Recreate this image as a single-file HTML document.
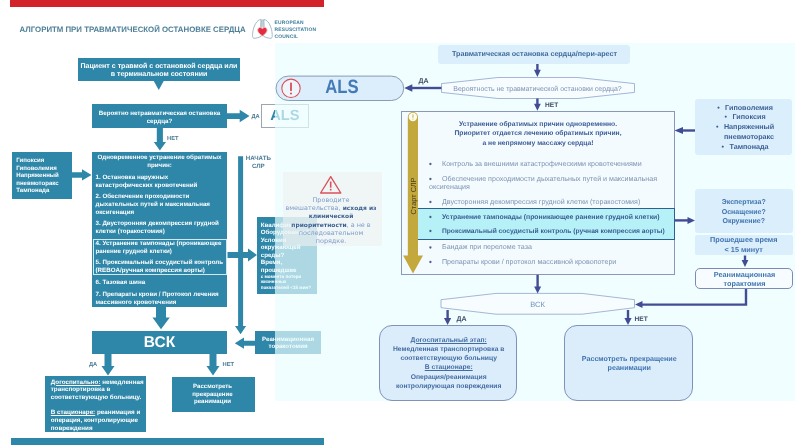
<!DOCTYPE html>
<html lang="ru">
<head>
<meta charset="utf-8">
<title>Алгоритм при травматической остановке сердца</title>
<style>
html,body{margin:0;padding:0;background:#fff;}
body{text-rendering:geometricPrecision;width:800px;height:445px;overflow:hidden;position:relative;font-family:"Liberation Sans",sans-serif;}
#stage{position:absolute;left:0;top:0;width:800px;height:445px;background:#fff;filter:blur(0.45px);}
.abs{position:absolute;}
.bx{position:absolute;background:#2e86a8;}
.lt{position:absolute;color:#fff;font-weight:bold;font-size:6.22px;line-height:8px;white-space:nowrap;}
.c{text-align:center;}
.lbl{position:absolute;color:#4b7b95;font-weight:bold;font-size:5.75px;line-height:7px;white-space:nowrap;}
svg{position:absolute;left:0;top:0;overflow:visible;}
/* right panel */
#panel{position:absolute;left:275.200px;top:42.700px;width:519.500px;height:358.300px;background:rgba(233,254,255,0.68);}
.rb{position:absolute;background:#dbeefb;border-radius:3px;}
.rt{position:absolute;color:#3b5c8e;font-weight:bold;font-size:7.6px;line-height:9.6px;white-space:nowrap;text-align:center;}
.rl{position:absolute;color:#7c93b3;font-size:7.12px;line-height:9px;white-space:nowrap;}
.rl b{color:#3a5c92;font-size:6.77px;}
.rlab{position:absolute;color:#3d4a68;font-weight:bold;font-size:6.6px;line-height:9px;white-space:nowrap;}
</style>
</head>
<body>
<div id="stage">

<!-- ================= LEFT POSTER ================= -->
<div class="abs" style="left:10px;top:-6px;width:313.750px;height:12.600px;background:#d2232a;"></div>
<div class="abs" style="left:19.5px;top:24.500px;font-size:7.84px;line-height:10px;font-weight:bold;color:#4f7f98;white-space:nowrap;">АЛГОРИТМ ПРИ ТРАВМАТИЧЕСКОЙ ОСТАНОВКЕ СЕРДЦА</div>

<!-- box 1 -->
<div class="bx" style="left:78px;top:57.5px;width:162px;height:23.750px;"></div>
<div class="lt c" style="left:78px;top:63px;width:162px;font-size:7.05px;line-height:8.25px;">Пациент с травмой с остановкой сердца или<br>в терминальном состоянии</div>

<!-- box 2 -->
<div class="bx" style="left:92px;top:104.300px;width:135px;height:23.800px;"></div>
<div class="lt c" style="left:92px;top:110px;width:135px;">Вероятно нетравматическая остановка<br>сердца?</div>

<!-- left small ALS box -->
<div class="abs" style="left:261px;top:104.200px;width:47.900px;height:24px;background:#fff;border:0.7px solid #9aa7b0;box-sizing:border-box;"></div>
<div class="abs" style="left:270.200px;top:108px;font-size:14.700px;line-height:17px;font-weight:bold;color:#2e86a8;white-space:nowrap;">ALS</div>

<!-- causes box -->
<div class="bx" style="left:12.200px;top:151.700px;width:59.800px;height:47.800px;"></div>
<div class="lt" style="left:16.250px;top:157.300px;font-size:6.08px;line-height:7.5px;">Гипоксия<br>Гиповолемия<br>Напряженный<br>пневмоторакс<br>Тампонада</div>

<!-- box 3 -->
<div class="bx" style="left:92px;top:152px;width:135px;height:154.800px;"></div>
<div class="abs" style="left:92.5px;top:239px;width:134px;height:35.5px;border:0.8px solid rgba(255,255,255,0.8);box-sizing:border-box;"></div>
<div class="lt c" style="left:92px;top:154.100px;width:135px;">Одновременное устранение обратимых<br>причин:</div>
<div class="lt" style="left:95.5px;top:174.300px;">1. Остановка наружных<br>катастрофических кровотечений</div>
<div class="lt" style="left:95.5px;top:192.800px;">2. Обеспечение проходимости<br>дыхательных путей и максимальная<br>оксигенация</div>
<div class="lt" style="left:95.5px;top:219.750px;">3. Двусторонняя декомпрессия грудной<br>клетки (торакостомия)</div>
<div class="lt" style="left:95.5px;top:240px;">4. Устранение тампонады (проникающее<br>ранение грудной клетки)</div>
<div class="lt" style="left:95.5px;top:259.100px;">5. Проксимальный сосудистый контроль<br>(REBOA/ручная компрессия аорты)</div>
<div class="lt" style="left:95.5px;top:279.200px;">6. Тазовая шина</div>
<div class="lt" style="left:95.5px;top:291.200px;">7. Препараты крови / Протокол лечения<br>массивного кровотечения</div>

<!-- qualification box -->
<div class="bx" style="left:257px;top:217px;width:59.5px;height:76.800px;"></div>
<div class="lt" style="left:260.700px;top:221.500px;font-size:6.2px;line-height:7.5px;">Квалификация?<br>Оборудование?<br>Условия<br>окружающей<br>среды?<br>Время,<br>прошедшее</div>
<div class="lt" style="left:260.700px;top:273.900px;font-size:4.6px;line-height:5.5px;">с момента потери<br>жизненных<br>показателей &lt;15 мин?</div>

<!-- BCK -->
<div class="bx" style="left:92px;top:331px;width:135px;height:22.5px;"></div>
<div class="abs c" style="left:92px;top:332.5px;width:135px;color:#fff;font-weight:bold;font-size:15.5px;line-height:19px;">ВСК</div>

<!-- thoracotomy left -->
<div class="bx" style="left:255px;top:331px;width:66px;height:22.5px;"></div>
<div class="lt c" style="left:255px;top:335.700px;width:66px;font-size:6.16px;line-height:7.7px;">Реанимационная<br>торакотомия</div>

<!-- bottom boxes -->
<div class="bx" style="left:45.300px;top:376.200px;width:101.200px;height:56px;"></div>
<div class="lt" style="left:50.800px;top:378.600px;font-size:6.25px;line-height:7.7px;"><u>Догоспитально:</u> немедленная<br>транспортировка в<br>соответствующую больницу.<br><br><u>В стационаре:</u> реанимация и<br>операция, контролирующие<br>повреждения</div>

<div class="bx" style="left:171.5px;top:376.500px;width:83px;height:35px;"></div>
<div class="lt c" style="left:171px;top:383.200px;width:83px;font-size:6.1px;line-height:7.6px;">Рассмотреть<br>прекращение<br>реанимации</div>

<div class="abs" style="left:11px;top:437.5px;width:313px;height:14px;background:#2e86a8;"></div>

<!-- labels -->
<div class="lbl" style="left:251.5px;top:113.5px;">ДА</div>
<div class="lbl" style="left:167px;top:136.200px;">НЕТ</div>
<div class="lbl c" style="left:241.300px;top:154.800px;width:34px;line-height:7.8px;font-size:6.2px;">НАЧАТЬ<br>СЛР</div>
<div class="lbl" style="left:89px;top:361.900px;">ДА</div>
<div class="lbl" style="left:222.5px;top:361.900px;">НЕТ</div>

<svg id="larrows" width="800" height="445" viewBox="0 0 800 445">
  <g fill="#2e86a8">
    <polygon points="153.750,81 163.750,81 158.750,90"/>
    <!-- box2 -> ALS -->
    <polygon points="227,113.200 239.700,113.200 239.700,109.800 249.500,116 239.700,122.200 239.700,118.900 227,118.900"/>
    <!-- box2 down -->
    <polygon points="156.800,128 162.900,128 162.900,142 166,142 159.850,150.500 153.800,142 156.800,142"/>
    <!-- causes -> box3 -->
    <polygon points="71,172.200 82,172.200 82,169.300 91.500,174.900 82,180.400 82,177.700 71,177.700"/>
    <!-- box3 -> qualification -->
    <polygon points="227.500,252 248,252 248,248.500 257,255 248,261.5 248,258 227.500,258"/>
    <!-- vertical start CPR -->
    <polygon points="238.100,156.300 243.100,156.300 243.100,326 246.100,326 240.600,334.300 235,326 238.100,326"/>
    <!-- box3 -> BCK -->
    <polygon points="156,306 166,306 166,317.500 169.800,317.500 161,329.200 152.5,317.500 156,317.500"/>
    <!-- thoracotomy -> BCK -->
    <polygon points="255.300,340.700 244,340.700 244,337.500 234.800,343.200 244,348.800 244,345.800 255.300,345.800"/>
    <!-- BCK yes/no -->
    <polygon points="104.5,353 111.5,353 111.5,366 114.5,366 108,375.5 101.5,366 104.5,366"/>
    <polygon points="209.500,353 216.500,353 216.500,366 219.500,366 213,375.5 206.500,366 209.500,366"/>
  </g>
</svg>

<!-- ERC logo -->
<svg id="logo" width="800" height="445" viewBox="0 0 800 445">
  <g fill="none" stroke="#7fa0ad" stroke-width="0.7" stroke-linecap="round" stroke-linejoin="round">
    <path d="M260.600,19.600 C257.200,19.400 253.800,25.500 252.900,31.500 C252.300,35.800 252.400,38.300 253.900,38.300 C256.300,38.300 259.600,37.400 261.400,36.100 L260.700,27 Z"/>
    <path d="M264.200,19.600 C267.600,19.400 271,25.500 271.900,31.500 C272.500,35.800 272.400,38.300 270.900,38.300 C268.500,38.300 265.200,37.400 263.400,36.100 L264.100,27 Z"/>
    <path d="M261.800,19.800 L261.800,27 M263,19.800 L263,27"/>
  </g>
  <path transform="translate(0,0.6)" d="M262.400,35.300 C259,32.900 257.700,31.400 257.700,29.500 C257.700,27.900 258.900,26.900 260.100,26.900 C261.100,26.900 261.900,27.400 262.400,28.300 C262.900,27.400 263.700,26.900 264.700,26.900 C265.900,26.900 267.100,27.900 267.100,29.500 C267.100,31.400 265.800,32.900 262.400,35.300 Z" fill="#e42b42" stroke="#f3b5bd" stroke-width="0.9"/>
</svg>
<div class="abs" style="left:274.6px;top:20.800px;font-size:4.95px;line-height:6.9px;font-weight:bold;color:#3d7f9e;white-space:nowrap;letter-spacing:0.15px;">EUROPEAN<br>RESUSCITATION<br>COUNCIL</div>

<!-- ================= RIGHT PANEL ================= -->
<div id="panel"></div>
<!-- big box -->
<div class="abs" style="left:400.500px;top:111px;width:274.500px;height:163.800px;box-sizing:border-box;border:0.9px solid #8b97b6;background:#f4fbfe;"></div>
<div class="abs" style="left:418.200px;top:207.700px;width:256.800px;height:32.700px;box-sizing:border-box;border:0.9px solid #2f5f8f;border-left:none;background:#b6f1f8;"></div>
<div class="abs" style="left:283px;top:172px;width:98.5px;height:74px;background:rgba(240,240,240,0.62);"></div>
<svg id="rshapes" width="800" height="445" viewBox="0 0 800 445">
  <!-- ALS pill -->
  <rect x="276" y="76.100" width="127.700" height="24.400" rx="12.200" fill="#dceefb" stroke="#7d92ab" stroke-width="0.9"/>
  <circle cx="291" cy="88.300" r="9.200" fill="#eef6fc" stroke="#dc4a54" stroke-width="1.05"/>
  <rect x="290.150" y="82.500" width="1.700" height="8.600" rx="0.6" fill="#d9434d"/>
  <circle cx="291" cy="93.400" r="1" fill="#d9434d"/>
  <!-- hexagons -->
  <polygon points="441.5,83.600 498,77.500 578,77.500 634.500,83.600 634.500,92.400 578,98.500 498,98.500 441.5,92.400" fill="#f7fcff" stroke="#8ea5cc" stroke-width="0.8"/>
  <polygon points="441,299.700 496,293.400 582,293.400 634.500,299.700 634.500,307.700 582,314.200 496,314.200 441,307.700" fill="#f7fcff" stroke="#8ea5cc" stroke-width="0.8"/>
  <!-- gold arrow -->
  <path d="M407.800,117 A5.100,5.100 0 0 1 418,117 L418,255.400 L423,255.400 L413,273.600 L403.100,255.400 L407.800,255.400 Z" fill="#c3a83e"/>
  <circle cx="412.900" cy="117" r="4.200" fill="#fbfbf2"/>
  <rect x="412.500" y="114.300" width="0.9" height="3.600" fill="#c3a83e"/>
  <rect x="412.500" y="118.700" width="0.9" height="0.9" fill="#c3a83e"/>
  <!-- warning triangle -->
  <path d="M330.700,176.600 L340.800,193 L320.600,193 Z" fill="none" stroke="#d9525c" stroke-width="1.35" stroke-linejoin="round"/>
  <rect x="329.900" y="181.500" width="1.600" height="6.200" fill="#d9525c"/>
  <rect x="329.900" y="188.800" width="1.600" height="1.700" fill="#d9525c"/>
  <!-- arrows -->
  <g stroke="#434d95" stroke-width="2.4" fill="none">
    <path d="M537.400,64 L537.400,72"/>
    <path d="M537.400,98.500 L537.400,106"/>
    <path d="M441.500,88 L410,88"/>
    <path d="M695.100,130.500 L681,130.500"/>
    <path d="M675,220.400 L690,220.400"/>
    <path d="M745,255.500 L745,262"/>
    <path d="M537.600,274.800 L537.600,288"/>
    <path d="M447.600,310 L447.600,320"/>
    <path d="M628,310 L628,320"/>
    <path d="M746,289 L746,304.600 L640,304.600"/>
  </g>
  <g fill="#414c94">
    <polygon points="537.400,77 534,69.800 540.800,69.800"/>
    <polygon points="537.400,110.800 534,103.800 540.800,103.800"/>
    <polygon points="404.300,88 412.300,84.300 412.300,91.700"/>
    <polygon points="674.500,130.500 683,127 683,134"/>
    <polygon points="695,220.400 687.500,216.900 687.500,223.900"/>
    <polygon points="745,267 741.600,260 748.400,260"/>
    <polygon points="537.600,293.400 534.100,286.400 541.100,286.400"/>
    <polygon points="447.600,325 444,318 451.200,318"/>
    <polygon points="628,325 624.400,318 631.600,318"/>
    <polygon points="635,304.600 642.500,301.100 642.500,308.100"/>
  </g>
  <!-- bullets -->
  <g fill="#4a5f8c">
    <circle cx="430.400" cy="164" r="1.15"/><circle cx="430.400" cy="179" r="1.15"/><circle cx="430.400" cy="202" r="1.15"/>
    <circle cx="430.400" cy="217" r="1.15"/><circle cx="430.400" cy="231" r="1.15"/><circle cx="430.400" cy="247.500" r="1.15"/><circle cx="430.400" cy="262" r="1.15"/>
  </g>
  <text x="0" y="0" transform="translate(415.700,196) rotate(-90)" text-anchor="middle" font-family="Liberation Sans, sans-serif" font-size="7.4" fill="#4a401e">Старт СЛР</text>
</svg>

<!-- warning note -->
<div class="abs c" style="top:196.200px;left:283px;width:96px;height:8.25px;font-family:'DejaVu Sans','Liberation Sans',sans-serif;font-size:6.45px;line-height:8.25px;color:#7d9ccb;white-space:nowrap;">Проводите</div>
<div class="abs c" style="top:204.200px;left:283px;width:96px;height:8.25px;font-family:'DejaVu Sans','Liberation Sans',sans-serif;font-size:6.45px;line-height:8.25px;color:#7d9ccb;white-space:nowrap;">вмешательства, <b style="color:#3b5f93;font-size:5.95px;line-height:0">исходя из</b></div>
<div class="abs c" style="top:212.200px;left:283px;width:96px;height:8.25px;font-family:'DejaVu Sans','Liberation Sans',sans-serif;font-size:6.45px;line-height:8.25px;color:#7d9ccb;white-space:nowrap;"><b style="color:#3b5f93;font-size:5.95px;line-height:0">клинической</b></div>
<div class="abs c" style="top:220.700px;left:283px;width:96px;height:8.25px;font-family:'DejaVu Sans','Liberation Sans',sans-serif;font-size:6.45px;line-height:8.25px;color:#7d9ccb;white-space:nowrap;"><b style="color:#3b5f93;font-size:5.95px;line-height:0">приоритетности</b>, а не в</div>
<div class="abs c" style="top:229.200px;left:283px;width:96px;height:8.25px;font-family:'DejaVu Sans','Liberation Sans',sans-serif;font-size:6.45px;line-height:8.25px;color:#7d9ccb;white-space:nowrap;">последовательном</div>
<div class="abs c" style="top:237.200px;left:283px;width:96px;height:8.25px;font-family:'DejaVu Sans','Liberation Sans',sans-serif;font-size:6.45px;line-height:8.25px;color:#7d9ccb;white-space:nowrap;">порядке.</div>

<!-- top title box -->
<div class="rb" style="left:437.5px;top:44.5px;width:192px;height:19.5px;"></div>
<div class="rt" style="left:438.500px;top:48.900px;width:192px;font-size:7.2px;color:#3f6a9c;">Травматическая остановка сердца/пери-арест</div>

<!-- right info boxes -->
<div class="rb" style="left:695.100px;top:98.800px;width:97px;height:56px;"></div>
<div class="rt" style="left:696.800px;top:102.700px;width:96.5px;font-size:7.2px;line-height:9.8px;color:#3d6196;">•&nbsp;&thinsp; Гиповолемия<br>•&nbsp;&thinsp; Гипоксия<br>•&nbsp;&thinsp; Напряженный<br><span style="visibility:hidden">•&nbsp;&thinsp; </span>пневмоторакс<br>•&nbsp;&thinsp; Тампонада</div>

<div class="rb" style="left:695px;top:189.300px;width:97.5px;height:44px;"></div>
<div class="rt" style="left:695px;top:197.600px;width:97.5px;font-size:7px;line-height:9.9px;color:#4074b0;">Экспертиза?<br>Оснащение?<br>Окружение?</div>

<div class="rb" style="left:695px;top:235.200px;width:97.5px;height:20px;border-radius:2px;"></div>
<div class="rt" style="left:695px;top:235.300px;width:97.5px;font-size:7.27px;line-height:9.6px;color:#4074b0;">Прошедшее время<br>&lt; 15 минут</div>

<div class="abs" style="left:695.300px;top:267.800px;width:98.200px;height:21.600px;box-sizing:border-box;border:0.8px solid #7d8bb2;border-radius:5px;background:#f6fcff;"></div>
<div class="rt" style="left:695.5px;top:269.900px;width:98px;font-size:7.28px;line-height:9.6px;color:#4074b0;">Реанимационная<br>торактомия</div>

<!-- big box text -->
<div class="rt" style="left:445.500px;top:120px;width:185px;font-size:6.75px;line-height:9.4px;color:#3b5b98;">Устранение обратимых причин одновременно.<br>Приоритет отдается лечению обратимых причин,<br>а не непрямому массажу сердца!</div>

<div class="rl" style="left:442px;top:159.5px;">Контроль за внешними катастрофическими кровотечениями</div>
<div class="rl" style="left:442px;top:174.5px;">Обеспечение проходимости дыхательных путей и максимальная</div>
<div class="rl" style="left:429px;top:183.2px;">оксигенация</div>
<div class="rl" style="left:442px;top:197.5px;">Двусторонняя декомпрессия грудной клетки (торакостомия)</div>
<div class="rl" style="left:442px;top:212.5px;"><b style="font-size:6.86px">Устранение тампонады (проникающее ранение грудной клетки)</b></div>
<div class="rl" style="left:442px;top:226.5px;"><b style="font-size:6.68px">Проксимальный сосудистый контроль (ручная компрессия аорты)</b></div>
<div class="rl" style="left:442px;top:243px;">Бандаж при переломе таза</div>
<div class="rl" style="left:442px;top:257.500px;">Препараты крови / протокол массивной кровопотери</div>

<!-- hexagon texts -->
<div class="rl c" style="left:441px;top:84.700px;width:193px;font-size:6.97px;color:#7c92b6;">Вероятность не травматической остановки сердца?</div>
<div class="rl c" style="left:441px;top:299.900px;width:193px;font-size:7.6px;color:#6b8fbe;">ВСК</div>

<!-- outcome boxes -->
<div class="abs" style="left:378.5px;top:324.900px;width:138px;height:76.100px;box-sizing:border-box;border:0.8px solid #8091ba;border-radius:13px;background:#dbedfb;"></div>
<div class="rt" style="left:379.700px;top:335.500px;width:138px;font-size:6.75px;line-height:9.3px;color:#436ba3;"><u>Догоспитальный этап:</u><br>Немедленная транспортировка в<br>соответствующую больницу<br><u>В стационаре:</u><br>Операция/реанимация<br>контролирующая повреждения</div>

<div class="abs" style="left:563.5px;top:324.900px;width:129.500px;height:76.100px;box-sizing:border-box;border:0.8px solid #8091ba;border-radius:13px;background:#dbedfb;"></div>
<div class="rt" style="left:564.500px;top:354.600px;width:129.500px;font-size:7.16px;line-height:9.8px;color:#4074b0;">Рассмотреть прекращение<br>реанимации</div>

<!-- labels -->
<div class="rlab" style="left:418.5px;top:76.900px;font-size:7px;">ДА</div>
<div class="rlab" style="left:545px;top:101px;">НЕТ</div>
<div class="rlab" style="left:456.5px;top:315.200px;font-size:7px;">ДА</div>
<div class="rlab" style="left:634.5px;top:315px;">НЕТ</div>

<div class="abs" style="left:321.500px;top:77.200px;width:40px;text-align:center;font-size:19.2px;line-height:22px;font-weight:bold;color:#437bb8;transform:scaleX(0.87);">ALS</div>

</div>
</body>
</html>
